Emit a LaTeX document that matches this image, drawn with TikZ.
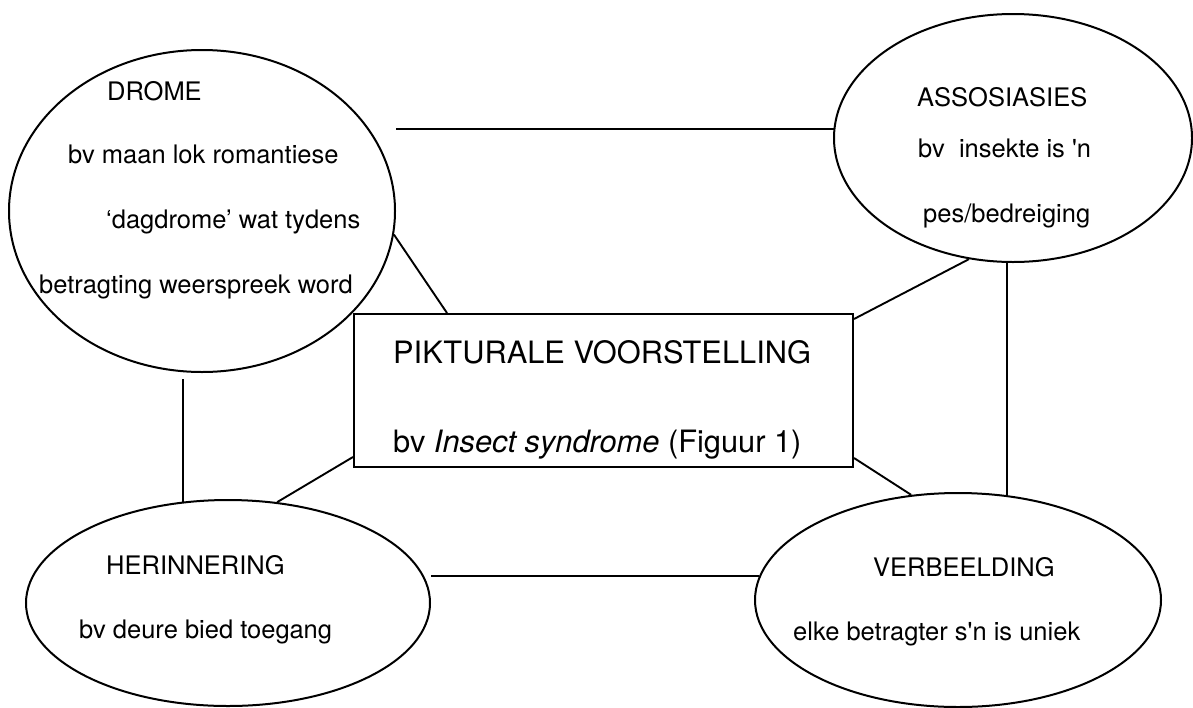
\documentclass[tikz,border=0pt]{standalone}
\usepackage{fontspec}
\setmainfont{TeX Gyre Heros}
\usetikzlibrary{shapes.geometric,calc}
\begin{document}
\begin{tikzpicture}[x=1pt,y=-1pt,
  bubble/.style={ellipse, draw, line width=2pt, inner sep=0pt},
  panel/.style={rectangle, draw, line width=2pt, inner sep=0pt},
  link/.style={draw, line width=1.9pt},
  txt/.style={anchor=base west, inner sep=0pt, font=\fontsize{25.5}{30}\selectfont},
  bigtxt/.style={anchor=base west, inner sep=0pt, font=\fontsize{30.8}{36}\selectfont}]
\useasboundingbox (0,0) rectangle (1193,707);
\fill[white] (0,0) rectangle (1193,707);

% outlines
\node[bubble, minimum width=386pt, minimum height=322pt] (drome) at (202,211) {};
\node[bubble, minimum width=358pt, minimum height=248pt] (assoc) at (1013,138) {};
\node[bubble, minimum width=404pt, minimum height=206pt] (herin) at (228,603) {};
\node[bubble, minimum width=406pt, minimum height=214pt] (verb) at (958,600) {};
\node[panel, minimum width=499pt, minimum height=153pt] (pikt) at (603.5,390.5) {};

% texts
\node[txt] (dromeA) at (107,100) {DROME};
\node[txt] (dromeB) at (68,163) {bv maan lok romantiese};
\node[txt] (dromeC) at (106,228) {‘dagdrome’ wat tydens};
\node[txt] (dromeD) at (39,293) {betragting weerspreek word};

\node[txt] (assocA) at (917,106) {ASSOSIASIES};
\node[txt] (assocB) at (918,157) {bv\ \ insekte is \textquotesingle n};
\node[txt] (assocC) at (923,222) {pes/bedreiging};

\node[txt] (herinA) at (106,574) {HERINNERING};
\node[txt] (herinB) at (79,638) {bv deure bied toegang};

\node[txt] (verbA) at (873,576) {VERBEELDING};
\node[txt] (verbB) at (793,640) {elke betragter s\textquotesingle n is uniek};

\node[bigtxt] (piktA) at (393,363) {PIKTURALE VOORSTELLING};
\node[bigtxt] (piktB) at (393,452) {bv \textit{Insect syndrome} (Figuur 1)};

% connectors
\draw[link] (drome.east |- assoc.177) -- (assoc.177);
\draw[link] (drome.-7) -- ($(pikt.north west)+(94,0)$);
\draw[link] (assoc.250) -- ($(pikt.north east)+(0,6)$);
\draw[link] (verb.65 |- assoc.south) -- (verb.65);
\draw[link] ($(herin.114 |- drome.south)+(0,6)$) -- (herin.114);
\draw[link] ($(pikt.south west)+(0,-11)$) -- (herin.64);
\draw[link] ($(pikt.south east)+(0,-10)$) -- (verb.114);
\draw[link] (herin.east |- verb.173) -- (verb.173);
\end{tikzpicture}
\end{document}
